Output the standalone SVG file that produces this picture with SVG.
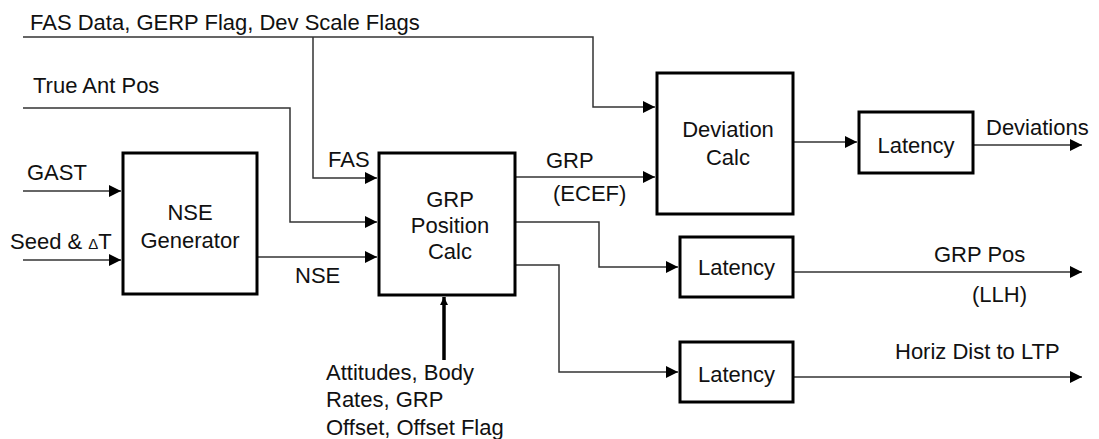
<svg xmlns="http://www.w3.org/2000/svg" width="1099" height="439" viewBox="0 0 1099 439">
<defs>
<marker id="arr" markerUnits="userSpaceOnUse" markerWidth="14" markerHeight="14" viewBox="0 0 14 14" refX="13" refY="7" orient="auto">
<path d="M1,1 L13,7 L1,13 Z" fill="#000"/>
</marker>
<marker id="arrS" markerUnits="userSpaceOnUse" markerWidth="10" markerHeight="10" viewBox="0 0 10 10" refX="9" refY="5" orient="auto">
<path d="M1,1 L9,5 L1,9 Z" fill="#000"/>
</marker>
</defs>
<style>
.box{fill:#fff;stroke:#000;stroke-width:3}
.ln{fill:none;stroke:#333;stroke-width:1.5}
.t{font-family:"Liberation Sans",Arial,sans-serif;font-size:22px;fill:#111}
.c{text-anchor:middle}
</style>
<rect width="1099" height="439" fill="#fff"/>
<g id="connectors">
<path class="ln" d="M23,37 H593 V107 H655" marker-end="url(#arr)"/>
<path class="ln" d="M313,37 V178 H377" marker-end="url(#arr)"/>
<path class="ln" d="M23,108 H290 V222 H377" marker-end="url(#arr)"/>
<path class="ln" d="M23,191 H121" marker-end="url(#arr)"/>
<path class="ln" d="M23,260 H121" marker-end="url(#arr)"/>
<path class="ln" d="M257,257 H377" marker-end="url(#arr)"/>
<path class="ln" d="M515,177 H655" marker-end="url(#arr)"/>
<path class="ln" d="M515,222 H599 V267 H678" marker-end="url(#arr)"/>
<path class="ln" d="M515,265 H559 V372 H678" marker-end="url(#arr)"/>
<path class="ln" d="M793,142 H857" marker-end="url(#arr)"/>
<path class="ln" d="M973,145 H1082" marker-end="url(#arr)"/>
<path class="ln" d="M793,272 H1082" marker-end="url(#arr)"/>
<path class="ln" d="M793,377 H1082" marker-end="url(#arr)"/>
<path d="M444,360 V297" fill="none" stroke="#000" stroke-width="3.5" marker-end="url(#arrS)"/>
</g>
<g id="nse-generator">
<rect class="box" x="123" y="153" width="134" height="141"/>
<text class="t c" x="190" y="220">NSE</text>
<text class="t c" x="190" y="248">Generator</text>
</g>
<g id="grp-position-calc">
<rect class="box" x="379" y="153" width="136" height="142"/>
<text class="t c" x="450" y="207">GRP</text>
<text class="t c" x="450" y="233">Position</text>
<text class="t c" x="450" y="259">Calc</text>
</g>
<g id="deviation-calc">
<rect class="box" x="657" y="73" width="136" height="141"/>
<text class="t c" x="728" y="137">Deviation</text>
<text class="t c" x="728" y="165">Calc</text>
</g>
<g id="latency-1">
<rect class="box" x="859" y="112" width="114" height="61"/>
<text class="t c" x="916" y="153">Latency</text>
</g>
<g id="latency-2">
<rect class="box" x="680" y="237" width="113" height="60"/>
<text class="t c" x="736.5" y="275">Latency</text>
</g>
<g id="latency-3">
<rect class="box" x="680" y="342" width="113" height="60"/>
<text class="t c" x="736.5" y="382">Latency</text>
</g>
<g id="labels">
<text class="t" x="30" y="30">FAS Data, GERP Flag, Dev Scale Flags</text>
<text class="t" x="33" y="93">True Ant Pos</text>
<text class="t" x="27" y="180">GAST</text>
<text class="t" x="10" y="249">Seed &amp; <tspan font-size="15">Δ</tspan>T</text>
<text class="t" x="295" y="283">NSE</text>
<text class="t" x="328" y="167">FAS</text>
<text class="t" x="546" y="168">GRP</text>
<text class="t" x="553" y="201">(ECEF)</text>
<text class="t" x="986" y="135">Deviations</text>
<text class="t" x="934" y="262">GRP Pos</text>
<text class="t" x="972" y="302">(LLH)</text>
<text class="t" x="895" y="359">Horiz Dist to LTP</text>
<text class="t" x="326" y="380">Attitudes, Body</text>
<text class="t" x="326" y="407">Rates, GRP</text>
<text class="t" x="326" y="435">Offset, Offset Flag</text>
</g>
</svg>
